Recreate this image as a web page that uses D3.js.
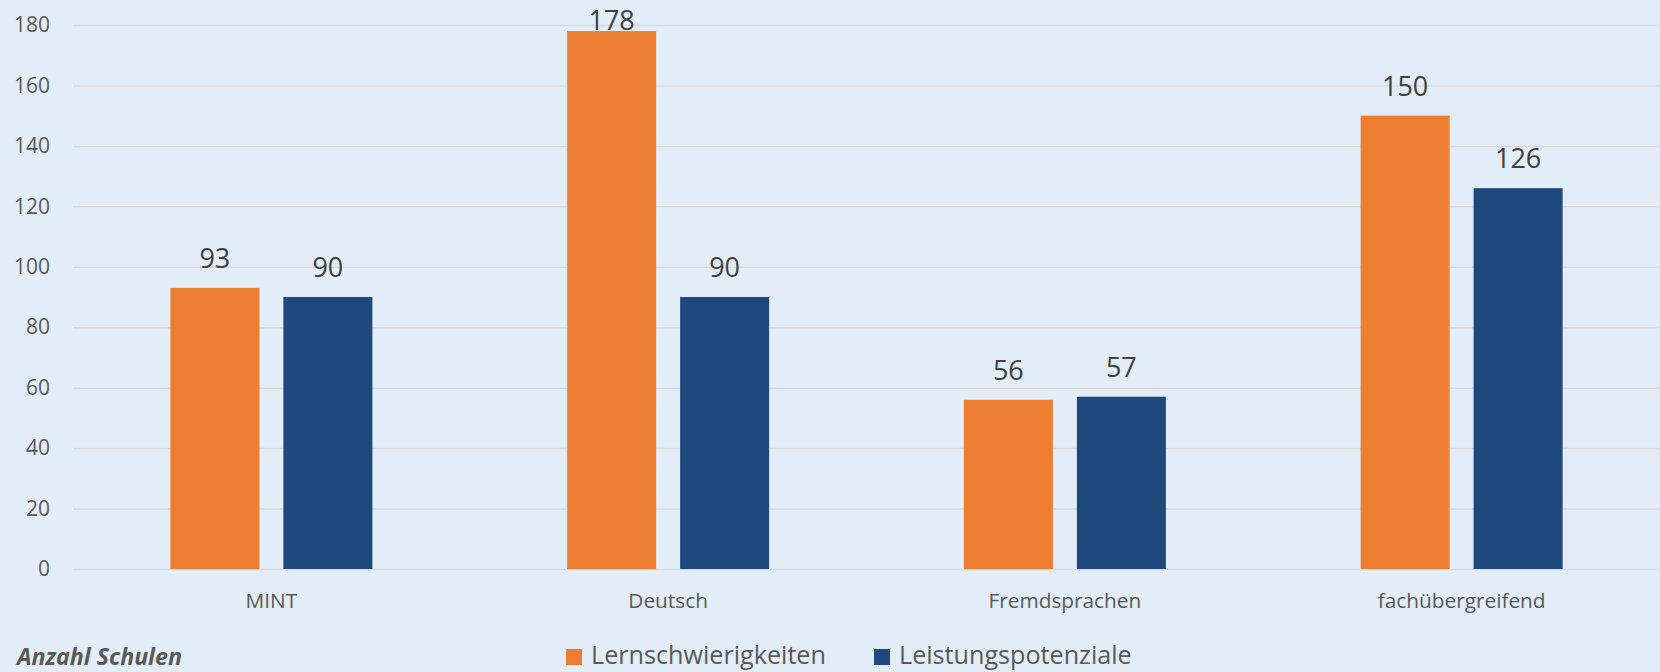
<!DOCTYPE html>
<html><head><meta charset="utf-8">
<script src="https://cdn.jsdelivr.net/npm/d3@7"></script>
<style>html,body{margin:0;padding:0;background:#E2EDF8;} svg{display:block;}</style>
</head><body>
<svg id="chart" width="1660" height="672"></svg>
<script>
const categories = ["MINT", "Deutsch", "Fremdsprachen", "fachübergreifend"];
const seriesNames = ["Lernschwierigkeiten", "Leistungspotenziale"];
const lernschwierigkeiten = [93, 178, 56, 150];
const leistungspotenziale = [90, 90, 57, 126];
const yTicks = [0, 20, 40, 60, 80, 100, 120, 140, 160, 180];
const colors = ["#ED7D31", "#1F497D"];
const axisTitle = "Anzahl Schulen";

const W = 1660, H = 672;
const margin = {left: 73, right: 0, top: 25, bottom: 103};
const svg = d3.select("#chart");
svg.append("rect").attr("width", W).attr("height", H).attr("fill", "#E2EDF8");

const font = "'Open Sans', 'Noto Sans', sans-serif";

// fit a text selection's font size so its width matches target
function fitSize(sel, target) {
  sel.style("font-size", "20px");
  const w = sel.node().getComputedTextLength();
  return 20 * target / w;
}

const x0 = d3.scaleBand().domain(categories).range([margin.left, W - margin.right]);
const y = d3.scaleLinear().domain([0, 180]).range([H - margin.bottom, margin.top]);
const groupW = 202;
const x1 = d3.scaleBand().domain(seriesNames).range([0, groupW]).paddingInner(24/113);

// gridlines + y labels
const yAxis = d3.axisLeft(y).tickValues(yTicks).tickSize(-(W - margin.left - margin.right)).tickPadding(23);
const gy = svg.append("g").attr("transform", `translate(${margin.left},0)`).call(yAxis);
gy.select(".domain").remove();
gy.selectAll(".tick line").attr("stroke", "#D9D9D9").attr("stroke-width", 1.5);
gy.selectAll(".tick text").attr("fill", "#595959").style("font-family", font).style("font-size", "21px");

// x axis labels
const xAxis = d3.axisBottom(x0).tickSize(0).tickPadding(24);
const gx = svg.append("g").attr("transform", `translate(0,${H - margin.bottom})`).call(xAxis);
gx.select(".domain").remove();
gx.selectAll(".tick text").attr("fill", "#595959").style("font-family", font);
const catSize = fitSize(gx.selectAll(".tick text").filter(d => d === "fachübergreifend"), 168);
gx.selectAll(".tick text").style("font-size", catSize + "px").attr("dy", null).attr("y", 39);

const data = categories.map((c, i) => ({cat: c, vals: [lernschwierigkeiten[i], leistungspotenziale[i]]}));
const groups = svg.append("g").selectAll("g").data(data).join("g")
  .attr("transform", d => `translate(${x0(d.cat) + x0.bandwidth()/2 - groupW/2},0)`);
groups.selectAll("rect").data(d => d.vals.map((v, j) => ({s: seriesNames[j], v, j}))).join("rect")
  .attr("x", d => x1(d.s)).attr("width", x1.bandwidth())
  .attr("y", d => y(d.v)).attr("height", d => y(0) - y(d.v))
  .attr("fill", d => colors[d.j]);
groups.selectAll("text").data(d => d.vals.map((v, j) => ({s: seriesNames[j], v, j}))).join("text")
  .attr("x", d => x1(d.s) + x1.bandwidth()/2)
  .attr("y", d => Math.max(y(d.v) - 20, 30))
  .attr("text-anchor", "middle").attr("fill", "#404040")
  .style("font-family", font).style("font-size", "27px")
  .text(d => d.v);

// axis title
const title = svg.append("text").attr("x", 17).attr("y", 665).attr("fill", "#595959")
  .style("font-family", font).style("font-weight", "bold").style("font-style", "italic")
  .text(axisTitle);
title.style("font-size", fitSize(title, 165) + "px");

// legend
const legendX = [566, 874];
const lg = svg.append("g").selectAll("g").data(seriesNames).join("g")
  .attr("transform", (d, i) => `translate(${legendX[i]},0)`);
lg.append("rect").attr("x", 0).attr("y", 649).attr("width", 16).attr("height", 16).attr("fill", (d, i) => colors[i]);
const lt = lg.append("text").attr("x", 25).attr("y", 664).attr("fill", "#595959")
  .style("font-family", font).text(d => d);
const legSize = fitSize(lt.filter((d, i) => i === 0), 235);
lt.style("font-size", legSize + "px");
</script>
</body></html>
